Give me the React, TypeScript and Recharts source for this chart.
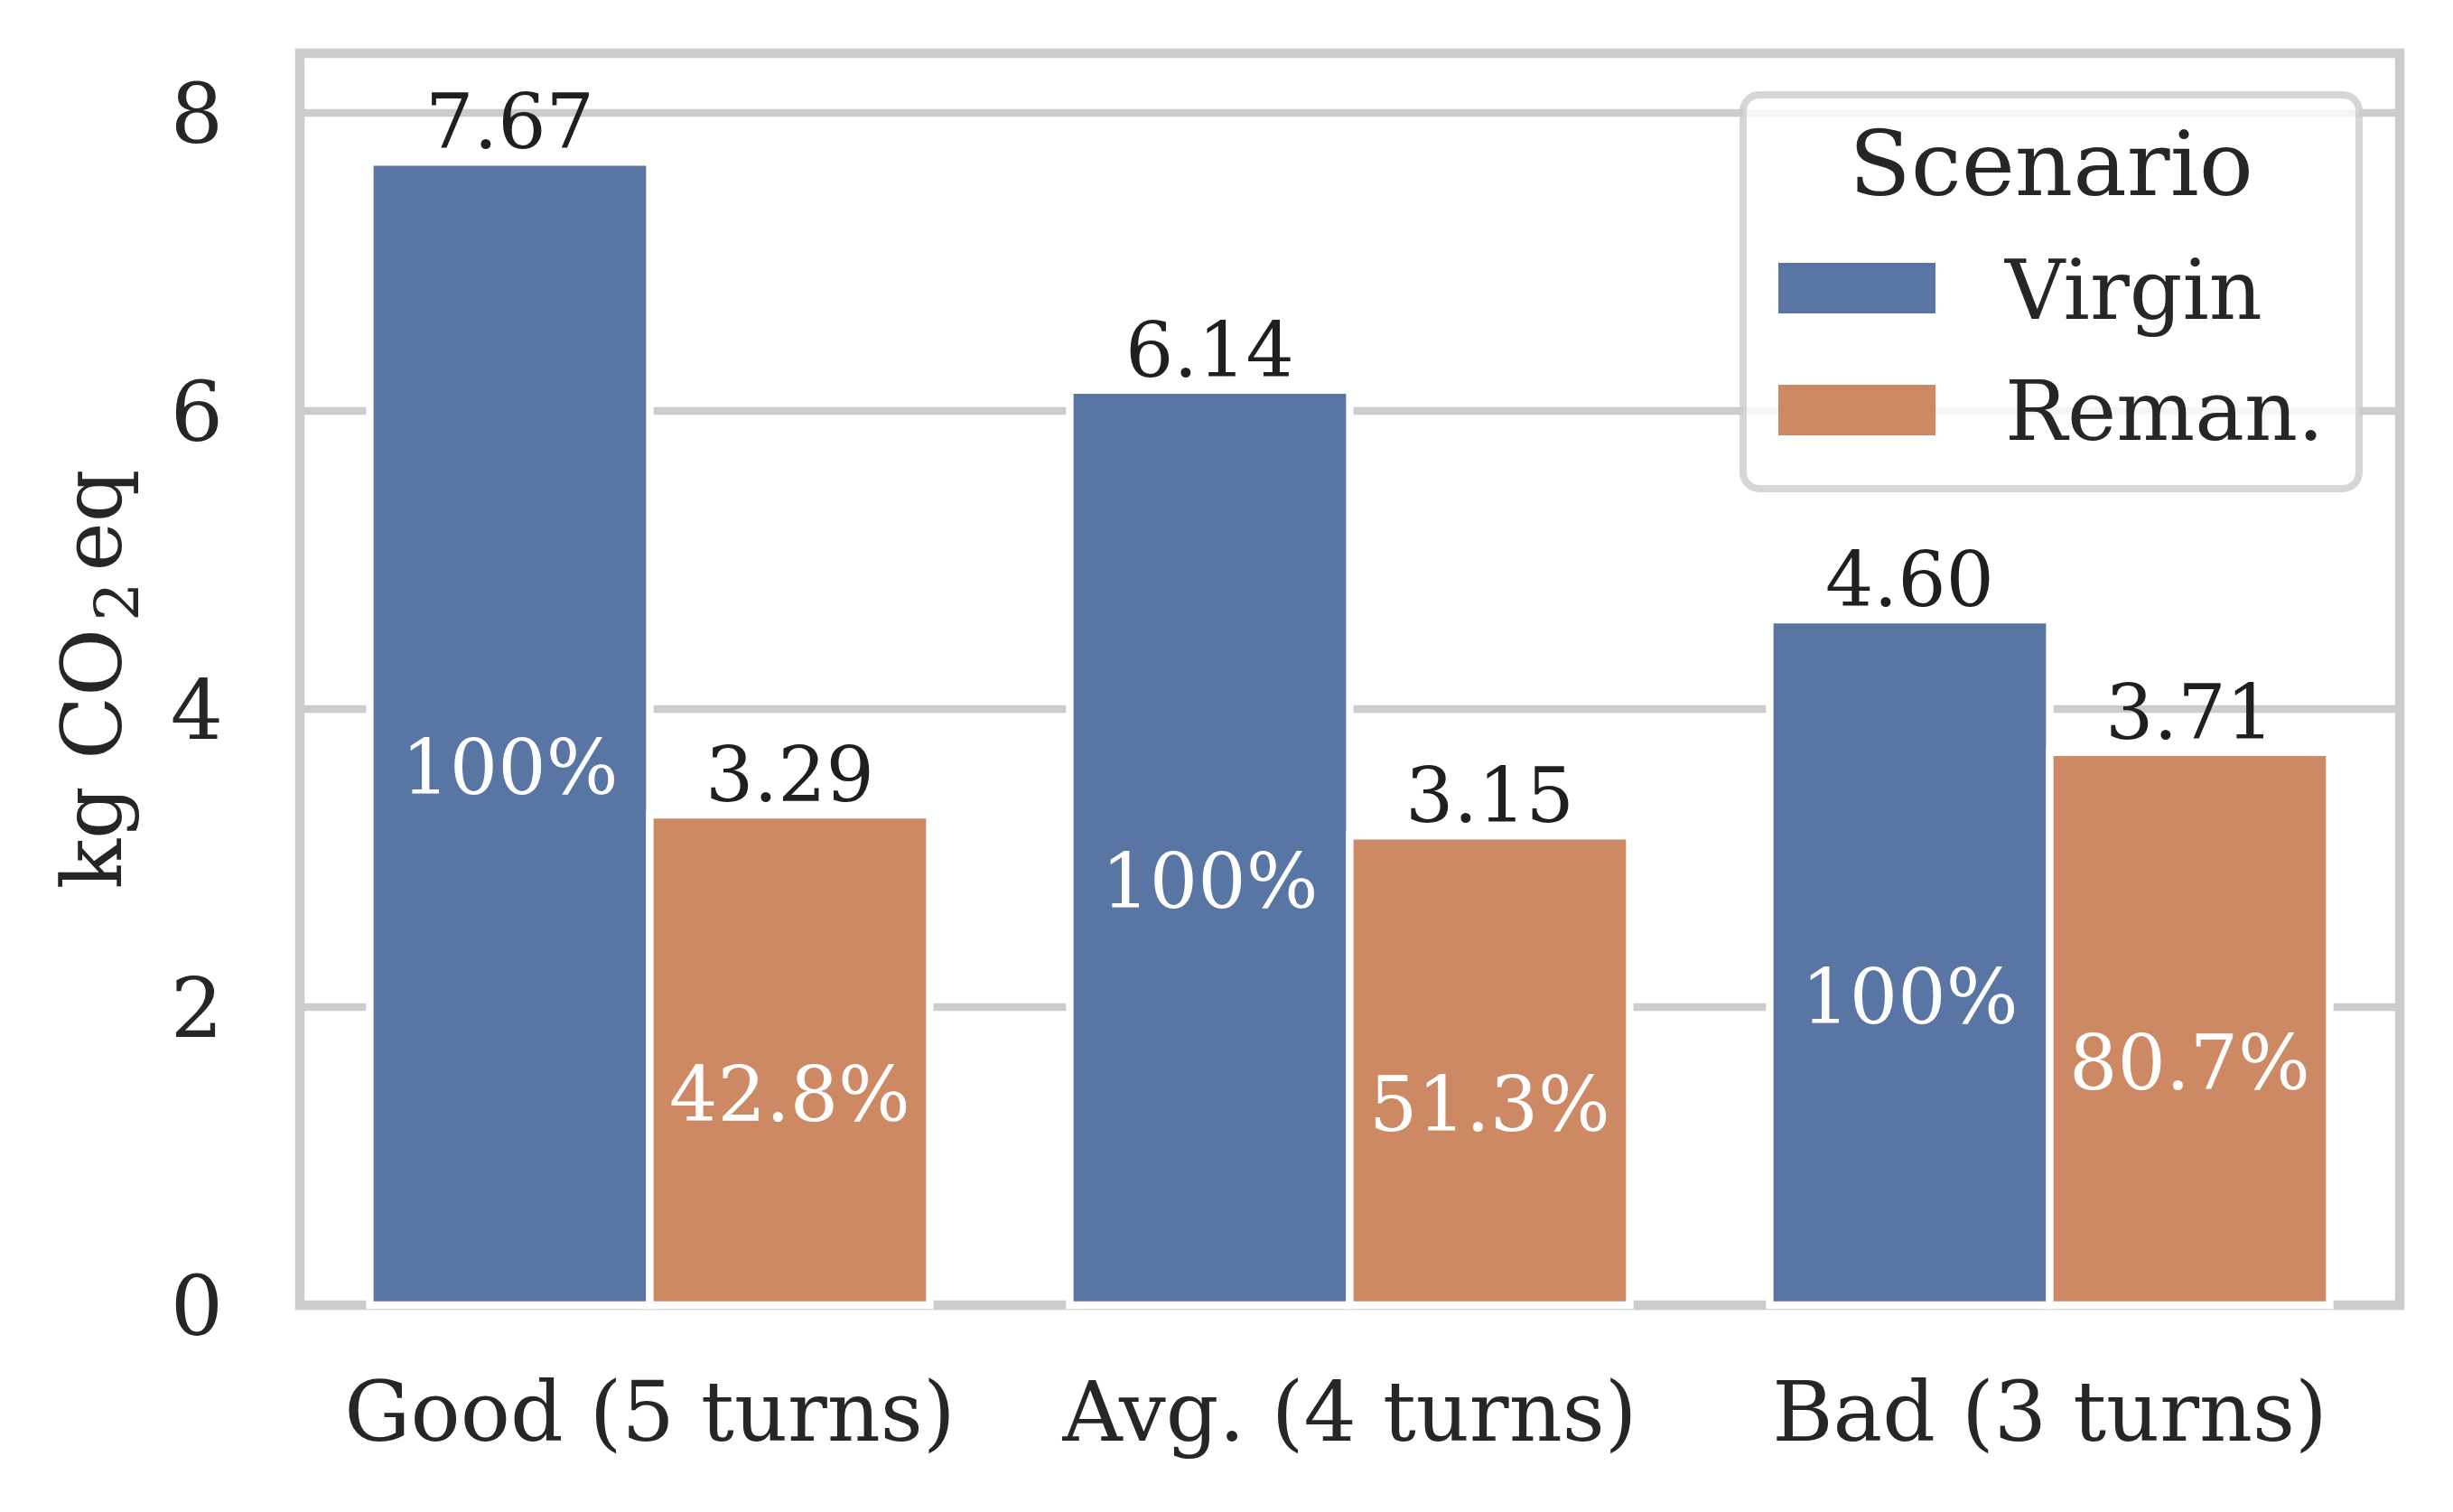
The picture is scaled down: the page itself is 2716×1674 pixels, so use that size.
import { BarChart, Bar, XAxis, YAxis, CartesianGrid, LabelList, Legend, ReferenceArea, Label } from "recharts";

const categories = ["Good (5 turns)", "Avg. (4 turns)", "Bad (3 turns)"];
const virgin = [7.67, 6.14, 4.6];
const reman = [3.29, 3.15, 3.71];
const virginPct = ["100%", "100%", "100%"];
const remanPct = ["42.8%", "51.3%", "80.7%"];
const seriesOrder = ["virgin", "reman"];
const yTicks = [0, 2, 4, 6, 8];

const data = categories.map((name, i) => ({
  name,
  virgin: virgin[i],
  reman: reman[i],
  virginPct: virginPct[i],
  remanPct: remanPct[i],
}));

const FONT = "'DejaVu Serif', serif";
const TEXT = "#262626";
const GRID = "#cccccc";
const BLUE = "#5975a4";
const ORANGE = "#cc8963";

function XTick({ x, y, payload }: any) {
  return (
    <text x={x} y={y + 150} textAnchor="middle" fontFamily={FONT} fontSize={91.7} fill={TEXT}>
      {payload.value}
    </text>
  );
}

function YTick({ x, y, payload }: any) {
  return (
    <text x={x - 85} y={y + 33} textAnchor="end" fontFamily={FONT} fontSize={91.7} fill={TEXT}>
      {payload.value}
    </text>
  );
}

function YTitle({ viewBox }: any) {
  const cx = viewBox.x + 134;
  const cy = viewBox.y + viewBox.height / 2;
  return (
    <text x={cx} y={cy} transform={`rotate(-90 ${cx} ${cy})`} textAnchor="middle" fontFamily={FONT} fontSize={91.7} fill={TEXT}>
      <tspan>kg CO</tspan>
      <tspan fontSize={68} dx={8} dy={19}>2</tspan>
      <tspan dx={12} dy={-19}>eq</tspan>
    </text>
  );
}

function ValueLabel({ x, y, width, value }: any) {
  return (
    <text x={x + width / 2} y={y - 15} textAnchor="middle" fontFamily={FONT} fontSize={84} fill="#1f1f1f">
      {Number(value).toFixed(2)}
    </text>
  );
}

function PctLabel({ x, y, width, height, value }: any) {
  return (
    <text x={x + width / 2} y={y + height / 2 + 67} textAnchor="middle" fontFamily={FONT} fontSize={84} fill="#ffffff">
      {value}
    </text>
  );
}

function LegendBox({ payload }: any) {
  const items = [...(payload || [])].sort(
    (a: any, b: any) => seriesOrder.indexOf(a.dataKey) - seriesOrder.indexOf(b.dataKey)
  );
  return (
    <svg width={690} height={444} style={{ display: "block" }}>
      <rect x={4} y={4} width={682} height={436} rx={18} fill="#ffffff" fillOpacity={0.8} stroke={GRID} strokeOpacity={0.8} strokeWidth={8} />
      <text x={345} y={115} textAnchor="middle" fontFamily={FONT} fontSize={100} fill={TEXT}>
        Scenario
      </text>
      {items.map((it: any, i: number) => (
        <g key={it.value}>
          <rect x={43} y={190 + i * 135} width={174} height={56} fill={it.color} />
          <text x={294} y={252 + i * 134} fontFamily={FONT} fontSize={91.7} fill={TEXT}>
            {it.value}
          </text>
        </g>
      ))}
    </svg>
  );
}

export default function App() {
  return (
    <div style={{ position: "absolute", left: 0, top: 0, width: 2716, height: 1674, background: "#fff" }}>
      <BarChart
        width={2716}
        height={1674}
        data={data}
        margin={{ top: 59, right: 59, left: 0, bottom: 0 }}
        barCategoryGap="10%"
        barGap={0}
      >
        <CartesianGrid vertical={false} stroke={GRID} strokeWidth={8.3} />
        <XAxis dataKey="name" height={229} tickSize={0} tickMargin={0} tickLine={false} axisLine={false} tick={<XTick />} interval={0} />
        <YAxis
          width={332}
          domain={[0, 8.4]}
          ticks={yTicks}
          tickSize={0}
          tickMargin={0}
          tickLine={false}
          axisLine={false}
          tick={<YTick />}
        >
          <Label content={<YTitle />} />
        </YAxis>
        <Legend
          layout="vertical"
          align="center"
          verticalAlign="middle"
          wrapperStyle={{ left: 1926, top: 101, width: 690, height: 444 }}
          content={<LegendBox />}
        />
        <Bar dataKey="virgin" name="Virgin" fill={BLUE} stroke="#ffffff" strokeWidth={8.3} isAnimationActive={false}>
          <LabelList dataKey="virgin" content={<ValueLabel />} />
          <LabelList dataKey="virginPct" content={<PctLabel />} />
        </Bar>
        <Bar dataKey="reman" name="Reman." fill={ORANGE} stroke="#ffffff" strokeWidth={8.3} isAnimationActive={false}>
          <LabelList dataKey="reman" content={<ValueLabel />} />
          <LabelList dataKey="remanPct" content={<PctLabel />} />
        </Bar>
        <ReferenceArea y1={0} y2={8.4} fill="none" stroke={GRID} strokeWidth={10.4} ifOverflow="visible" />
      </BarChart>
    </div>
  );
}
